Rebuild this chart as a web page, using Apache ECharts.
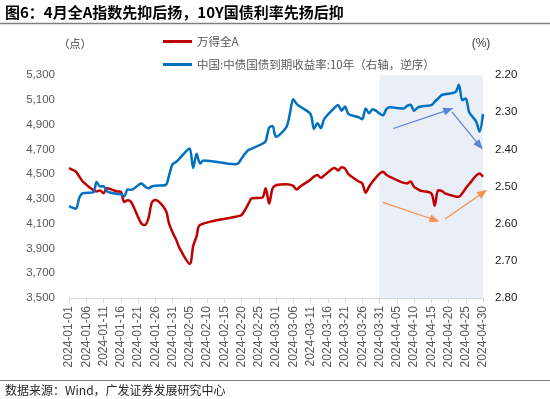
<!DOCTYPE html>
<html>
<head>
<meta charset="utf-8">
<script src="https://cdn.jsdelivr.net/npm/echarts@6/dist/echarts.min.js"></script>
<style>
  html, body { margin: 0; background: #fff; }
  #main { width: 550px; height: 399px; }
</style>
</head>
<body>
<div id="main"></div>
<script>
// 万得全A (点), trading days
const aDates = ['01-01','01-02','01-03','01-04','01-05','01-08','01-09','01-10','01-11','01-12',
  '01-15','01-16','01-17','01-18','01-19','01-22','01-23','01-24','01-25','01-26',
  '01-29','01-30','01-31','02-01','02-02','02-05','02-06','02-07','02-08','02-19',
  '02-20','02-21','02-22','02-23','02-26','02-27','02-28','02-29','03-01','03-04',
  '03-05','03-06','03-07','03-08','03-11','03-12','03-13','03-14','03-15','03-18',
  '03-19','03-20','03-21','03-22','03-25','03-26','03-27','03-28','03-29','04-01',
  '04-02','04-03','04-08','04-09','04-10','04-11','04-12','04-15','04-16','04-17',
  '04-18','04-19','04-22','04-23','04-24','04-25','04-26','04-29','04-30'];
const aVals = [4548,4535,4520,4480,4440,4372,4360,4368,4345,4385,
  4360,4358,4275,4290,4275,4100,4090,4140,4270,4292,
  4210,4100,4030,3975,3905,3775,3920,4000,4090,4160,
  4170,4210,4260,4305,4310,4385,4262,4385,4410,4418,
  4415,4405,4375,4400,4455,4480,4492,4470,4490,4550,
  4530,4555,4545,4500,4440,4425,4350,4400,4440,4520,
  4495,4478,4425,4440,4398,4380,4365,4345,4245,4370,
  4365,4345,4320,4318,4345,4385,4420,4505,4478];

// 中债国债到期收益率:10年 (%), bond market days
const yDates = ['01-01','01-02','01-03','01-04','01-05','01-08','01-09','01-10','01-11','01-12',
  '01-15','01-16','01-17','01-18','01-19','01-22','01-23','01-24','01-25','01-26',
  '01-29','01-30','01-31','02-01','02-02','02-04','02-05','02-06','02-07','02-08',
  '02-09','02-18','02-19','02-20','02-21','02-22','02-23','02-26','02-27','02-28',
  '02-29','03-01','03-04','03-05','03-06','03-07','03-08','03-11','03-12','03-13',
  '03-14','03-15','03-18','03-19','03-20','03-21','03-22','03-25','03-26','03-27',
  '03-28','03-29','04-01','04-02','04-03','04-07','04-08','04-09','04-10','04-11',
  '04-12','04-15','04-16','04-17','04-18','04-19','04-22','04-23','04-24','04-25',
  '04-26','04-28','04-29','04-30'];
const yVals = [2.553,2.557,2.560,2.530,2.518,2.516,2.488,2.500,2.499,2.513,
  2.520,2.521,2.526,2.508,2.509,2.492,2.500,2.505,2.500,2.498,
  2.496,2.470,2.440,2.434,2.425,2.405,2.398,2.450,2.412,2.438,
  2.430,2.440,2.438,2.425,2.412,2.402,2.398,2.385,2.378,2.342,
  2.337,2.366,2.340,2.305,2.265,2.278,2.285,2.305,2.345,2.330,
  2.343,2.318,2.288,2.281,2.296,2.285,2.305,2.314,2.319,2.290,
  2.303,2.292,2.308,2.292,2.287,2.290,2.283,2.280,2.296,2.288,
  2.285,2.281,2.272,2.263,2.254,2.252,2.246,2.226,2.268,2.263,
  2.300,2.325,2.352,2.305];

// annotation arrows: [fromDate, fromValue, toDate, toValue]
const orangeArrows = [['04-01', 4272, '04-16', 4130], ['04-19', 4138, '04-30', 4350]];
const blueArrows = [['04-04', 2.344, '04-20', 2.294], ['04-21', 2.299, '04-29', 2.390]];

const shadeFrom = '2024-03-31';
const shadeTo = '2024-04-30';

// calendar categories 2024-01-01 .. 2024-04-30
const days = [];
for (let d = new Date(Date.UTC(2024, 0, 1)); d <= new Date(Date.UTC(2024, 3, 30)); d.setUTCDate(d.getUTCDate() + 1)) {
  days.push(d.toISOString().slice(0, 10));
}

const full = s => '2024-' + s;
const arrowData = list => list.map(a => [{ coord: [full(a[0]), a[1]] }, { coord: [full(a[2]), a[3]] }]);
const commas = v => String(v).replace(/\B(?=(\d{3})+(?!\d))/g, ',');

const FONT = 'Arial, "Liberation Sans", "Noto Sans CJK SC", sans-serif';
const CJK = '"Noto Sans CJK SC", sans-serif';

const chart = echarts.init(document.getElementById('main'));
chart.setOption({
  animation: false,
  backgroundColor: '#fff',
  grid: { left: 69, right: 67, top: 75, bottom: 101 },
  legend: {
    orient: 'vertical',
    left: 163,
    top: 35,
    padding: 0,
    itemGap: 10,
    itemWidth: 29,
    itemHeight: 3,
    icon: 'rect',
    textStyle: { fontSize: 11.5, color: '#595959', fontFamily: CJK, lineHeight: 13 },
    data: ['万得全A', '中国:中债国债到期收益率:10年（右轴，逆序）']
  },
  xAxis: {
    type: 'category',
    data: days,
    boundaryGap: false,
    axisLine: { lineStyle: { color: '#D9D9D9', width: 1 } },
    axisTick: { interval: 4, length: 5, lineStyle: { color: '#D9D9D9' } },
    axisLabel: { interval: 4, rotate: 90, fontSize: 12, color: '#595959', margin: 8, fontFamily: FONT },
    splitLine: { show: false }
  },
  yAxis: [
    {
      type: 'value',
      min: 3500, max: 5300, interval: 200,
      axisLine: { show: false }, axisTick: { show: false }, splitLine: { show: false },
      axisLabel: { fontSize: 11.5, color: '#595959', margin: 14, fontFamily: FONT, formatter: commas }
    },
    {
      type: 'value',
      inverse: true,
      min: 2.2, max: 2.8, interval: 0.1,
      axisLine: { show: false }, axisTick: { show: false }, splitLine: { show: false },
      axisLabel: { fontSize: 11.5, color: '#1a1a1a', margin: 12, fontFamily: FONT, formatter: v => v.toFixed(2) }
    }
  ],
  series: [
    {
      name: '万得全A',
      type: 'line',
      yAxisIndex: 0,
      data: aDates.map((d, i) => [full(d), aVals[i]]),
      showSymbol: false,
      smooth: 0.3,
      lineStyle: { color: '#C00000', width: 2.5 },
      itemStyle: { color: '#C00000' },
      markArea: {
        silent: true,
        itemStyle: { color: '#E9EEF7' },
        data: [[{ xAxis: shadeFrom }, { xAxis: shadeTo }]]
      },
      markLine: {
        silent: true,
        symbol: ['none', 'triangle'],
        symbolSize: [8, 10],
        label: { show: false },
        lineStyle: { color: '#F4914A', width: 1.2, type: 'solid' },
        data: arrowData(orangeArrows)
      }
    },
    {
      name: '中国:中债国债到期收益率:10年（右轴，逆序）',
      type: 'line',
      yAxisIndex: 1,
      data: yDates.map((d, i) => [full(d), yVals[i]]),
      showSymbol: false,
      smooth: 0.3,
      lineStyle: { color: '#0070C0', width: 2.5 },
      itemStyle: { color: '#0070C0' },
      markLine: {
        silent: true,
        symbol: ['none', 'triangle'],
        symbolSize: [8, 10],
        label: { show: false },
        lineStyle: { color: '#5B83D6', width: 1.2, type: 'solid' },
        data: arrowData(blueArrows)
      }
    }
  ],
  graphic: [
    { type: 'text', left: 5, top: 5, style: { text: '图6：4月全A指数先抑后扬，10Y国债利率先扬后抑', font: 'bold 15px ' + CJK, fill: '#000' } },
    { type: 'line', shape: { x1: 0, y1: 23.5, x2: 550, y2: 23.5 }, style: { stroke: '#7F7F7F', lineWidth: 1.5 } },
    { type: 'text', x: 75, y: 44, style: { text: '（点）', font: '11px ' + CJK, fill: '#404040', align: 'center', verticalAlign: 'middle' } },
    { type: 'text', x: 481, y: 44, style: { text: '(%)', font: '12px ' + FONT, fill: '#404040', align: 'center', verticalAlign: 'middle' } },
    { type: 'line', shape: { x1: 0, y1: 380.5, x2: 550, y2: 380.5 }, style: { stroke: '#7F7F7F', lineWidth: 1 } },
    { type: 'text', x: 5, y: 390, style: { text: '数据来源：Wind，广发证券发展研究中心', font: '12px ' + CJK, fill: '#262626', verticalAlign: 'middle' } }
  ]
});
</script>
</body>
</html>
